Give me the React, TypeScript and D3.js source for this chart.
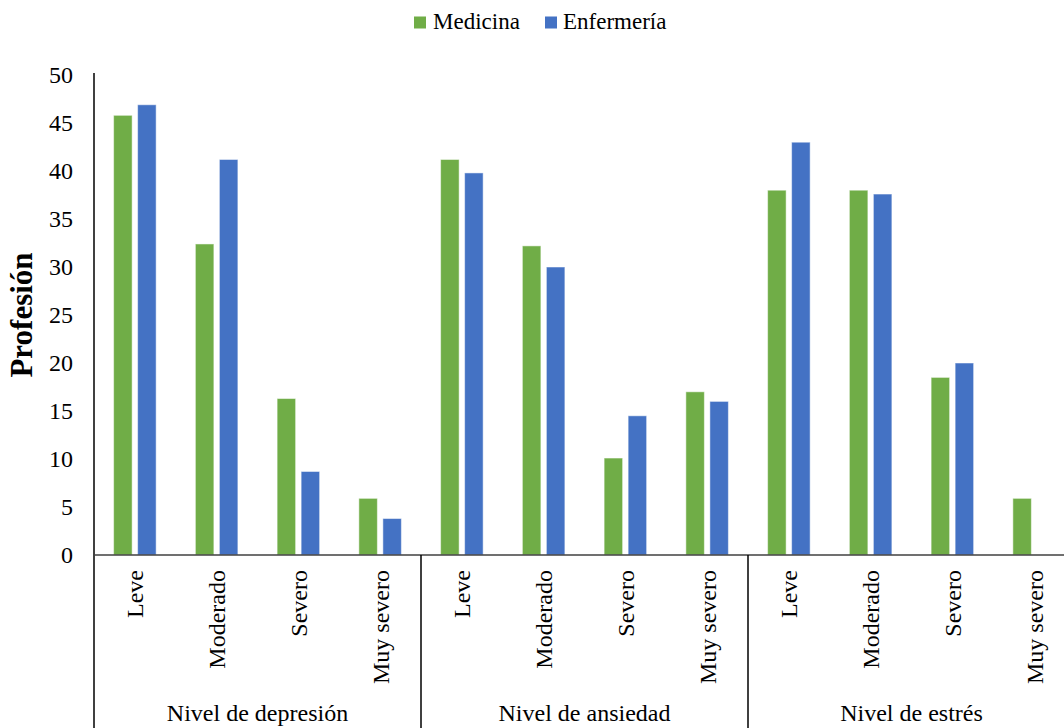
import React from "react";
import * as d3 from "d3";

const groups = ["Nivel de depresión", "Nivel de ansiedad", "Nivel de estrés"];
const levels = ["Leve", "Moderado", "Severo", "Muy severo"];
const seriesNames = ["Medicina", "Enfermería"];
const seriesColors = ["#70AD47", "#4472C4"];
const medicina = [45.8, 32.4, 16.3, 5.9, 41.2, 32.2, 10.1, 17.0, 38.0, 38.0, 18.5, 5.9];
const enfermeria = [46.9, 41.2, 8.7, 3.8, 39.8, 30.0, 14.5, 16.0, 43.0, 37.6, 20.0, 0];
const yTicks = [0, 5, 10, 15, 20, 25, 30, 35, 40, 45, 50];

const W = 1064;
const H = 728;
const FONT = "'Liberation Serif', 'Times New Roman', serif";

export default function App() {
  const categories = groups.flatMap((g) => levels.map((l) => ({ g, l })));
  const x = d3
    .scaleBand<number>()
    .domain(categories.map((_, i) => i))
    .range([94, 94 + 12 * 81.75])
    .padding(0);
  const inner = d3
    .scaleBand<number>()
    .domain([0, 1])
    .range([0, x.bandwidth()])
    .paddingInner(0.229)
    .paddingOuter(0.817);
  const y = d3.scaleLinear().domain([0, 50]).range([555, 75]);
  const values = [medicina, enfermeria];
  const groupW = x.step() * levels.length;

  return (
    <svg
      width={W}
      height={H}
      style={{ position: "absolute", left: 0, top: 0, background: "#fff" }}
      fontFamily={FONT}
    >
      {/* legend */}
      <g>
        <rect x={414} y={16.5} width={12} height={12} fill={seriesColors[0]} />
        <text x={433} y={29} fontSize={23} fill="#000">{seriesNames[0]}</text>
        <rect x={545} y={16.5} width={12} height={12} fill={seriesColors[1]} />
        <text x={563} y={29} fontSize={23} fill="#000">{seriesNames[1]}</text>
      </g>

      {/* y title */}
      <text
        transform={`translate(32,315) rotate(-90)`}
        textAnchor="middle"
        fontSize={31}
        fontWeight="bold"
        fill="#000"
      >
        Profesión
      </text>

      {/* y ticks */}
      {yTicks.map((t) => (
        <text key={t} x={73} y={y(t)} dy="0.35em" textAnchor="end" fontSize={24} fill="#000">
          {t}
        </text>
      ))}

      {/* bars */}
      {categories.map((c, i) =>
        values.map((vals, s) =>
          vals[i] > 0 ? (
            <rect
              key={`${i}-${s}`}
              x={(x(i) as number) + (inner(s) as number)}
              y={y(vals[i])}
              width={inner.bandwidth()}
              height={y(0) - y(vals[i])}
              fill={seriesColors[s]}
              stroke="#fff"
              strokeOpacity={0.5}
              strokeWidth={1}
            />
          ) : null
        )
      )}

      {/* axes */}
      <line x1={94} x2={94} y1={73} y2={H} stroke="#000" strokeWidth={1.5} />
      <line x1={94} x2={W} y1={555} y2={555} stroke="#404040" strokeWidth={1.5} />
      {groups.map((g, gi) => {
        const gx = x(gi * levels.length) as number;
        return (
          <g key={g}>
            {gi > 0 && <line x1={gx} x2={gx} y1={555} y2={H} stroke="#000" strokeWidth={1.5} />}
            <text x={gx + groupW / 2} y={721} textAnchor="middle" fontSize={24} fill="#000">
              {g}
            </text>
          </g>
        );
      })}

      {/* category labels */}
      {categories.map((c, i) => (
        <text
          key={i}
          transform={`translate(${(x(i) as number) + x.bandwidth() / 2},570) rotate(-90)`}
          textAnchor="end"
          dy="0.35em"
          fontSize={24}
          fill="#000"
        >
          {c.l}
        </text>
      ))}
    </svg>
  );
}
